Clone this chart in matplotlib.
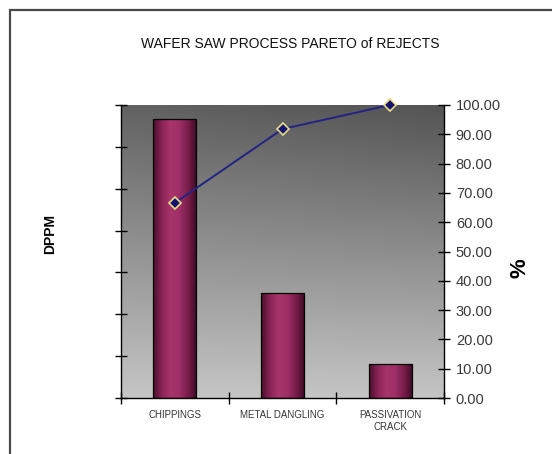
import numpy as np
import matplotlib
matplotlib.use("Agg")
import matplotlib.pyplot as plt
from matplotlib.patches import Rectangle
from matplotlib.colors import LinearSegmentedColormap

# Reject categories, DPPM counts and cumulative percentage
categories = ["CHIPPINGS", "METAL DANGLING", "PASSIVATION\nCRACK"]
dppm = [66.7, 25.2, 8.2]
cum_pct = [66.6, 91.8, 100.0]
pct_ticks = [0, 10, 20, 30, 40, 50, 60, 70, 80, 90, 100]
dppm_ticks = [0, 10, 20, 30, 40, 50, 60, 70]

regular = ["Liberation Sans", "DejaVu Sans"]

fig = plt.figure(figsize=(5.52, 4.54), dpi=100)
fig.patch.set_facecolor("white")

# outer frame running off the right and bottom edges
fig.patches.append(Rectangle((10 / 552, -0.05), 1.2, 1 - 10 / 454 + 0.05,
                             transform=fig.transFigure, fill=False,
                             edgecolor="#4a4a4a", linewidth=1.6))

L, R, T, B = 121, 444, 105, 398
ax = fig.add_axes([L / 552, 1 - B / 454, (R - L) / 552, (B - T) / 454])
ax.set_xlim(0, 3)
ax.set_ylim(dppm_ticks[0], dppm_ticks[-1])

# gray gradient plot background: dark at the top, light at the bottom
ny, nx = 200, 200
yy, xx = np.mgrid[0:1:ny * 1j, 0:1:nx * 1j]
shade = np.clip(0.95 * yy + 0.12 * (1 - xx) * (1 - yy), 0, 1)
bg = LinearSegmentedColormap.from_list("bg", ["#545454", "#cbcbcb"])
ax.imshow(shade, cmap=bg, vmin=0, vmax=1, extent=[0, 3, 0, 70],
          origin="upper", aspect="auto", zorder=0)

# cylinder-shaded bars
bar_cmap = LinearSegmentedColormap.from_list(
    "bar", ["#4a0f2c", "#8a2456", "#a8356c", "#9e2f66", "#7a1d4a", "#3e0b25"])
grad = np.linspace(0, 1, 64)[None, :]
x = np.arange(len(categories)) + 0.5
bars = ax.bar(x, dppm, width=0.4, color="none", edgecolor="black",
              linewidth=0.9, zorder=3)
for rect in bars:
    x0, w, h = rect.get_x(), rect.get_width(), rect.get_height()
    im = ax.imshow(grad, cmap=bar_cmap, extent=[x0, x0 + w, 0, h],
                   aspect="auto", zorder=2)
    im.set_clip_path(rect)

ax.set_yticks(dppm_ticks)
ax.set_yticklabels([])
ax.tick_params(axis="y", direction="inout", length=9, width=1, color="black")
ax.set_xticks([0, 1, 2, 3])
ax.set_xticklabels([])
ax.tick_params(axis="x", direction="inout", length=9, width=1, color="black")
ax.set_xticks(x, minor=True)
ax.set_xticklabels(categories, minor=True, fontsize=7, family=regular,
                   color="#383838", linespacing=1.15)
ax.tick_params(axis="x", which="minor", length=0, pad=9)
for s in ["top", "right"]:
    ax.spines[s].set_visible(False)
for s in ["left", "bottom"]:
    ax.spines[s].set_linewidth(1)

ax.set_ylabel("DPPM", fontsize=10, fontweight="bold", family=regular)
ax.yaxis.set_label_coords((57 - L) / (R - L), (B - 234) / (B - T))

# cumulative percentage on the right axis
ax2 = ax.twinx()
ax2.set_ylim(pct_ticks[0], pct_ticks[-1])
ax2.set_yticks(pct_ticks)
ax2.set_yticklabels([f"{v:.2f}" for v in pct_ticks], fontsize=10.5,
                    family=regular, color="#3a3a3a")
ax2.tick_params(axis="y", direction="inout", length=9, width=1, pad=4,
                color="black")
for s in ["top", "left", "bottom"]:
    ax2.spines[s].set_visible(False)
ax2.spines["right"].set_linewidth(1)
ax2.plot(x, cum_pct, color="#232385", linewidth=1.4, marker="D",
         markersize=6.5, markerfacecolor="#14146e",
         markeredgecolor="#e6dc8c", markeredgewidth=1.2, zorder=5,
         clip_on=False)
ax2.set_ylabel("%", fontsize=16, fontweight="bold", family=regular,
               color="black")
ax2.yaxis.set_label_coords((510 - L) / (R - L), (B - 268) / (B - T))

fig.text(290 / 552, 1 - 44 / 454, "WAFER SAW PROCESS PARETO of REJECTS",
         ha="center", va="center", fontsize=10, family=regular,
         color="#111111")

fig.savefig("out.png", dpi=100)
